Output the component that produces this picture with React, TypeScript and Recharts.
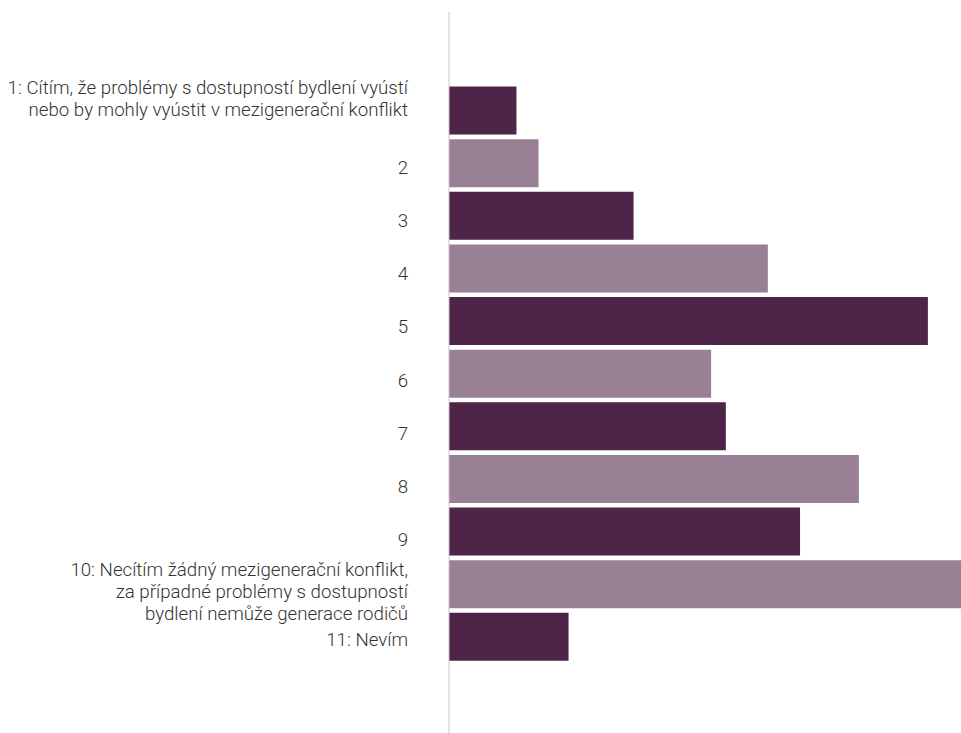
import React from 'react';
import { BarChart, Bar, XAxis, YAxis, Cell } from 'recharts';

const categories = ['1', '2', '3', '4', '5', '6', '7', '8', '9', '10', '11'];
const tickLabels: string[][] = [
  ['1: Cítím, že problémy s dostupností bydlení vyústí', 'nebo by mohly vyústit v mezigenerační konflikt'],
  ['2'],
  ['3'],
  ['4'],
  ['5'],
  ['6'],
  ['7'],
  ['8'],
  ['9'],
  ['10: Necítím žádný mezigenerační konflikt,', 'za případné problémy s dostupností', 'bydlení nemůže generace rodičů'],
  ['11: Nevím'],
];
const values = [2.2, 2.92, 6.02, 10.4, 15.62, 8.55, 9.03, 13.37, 11.45, 16.7, 3.9];
const barColors = ['#4E2549', '#9A8095'];

const data = categories.map((c, i) => ({ category: c, value: values[i] }));

const LINE_HEIGHT = 22;

const Tick = (props: any) => {
  const { x, y, payload, index } = props;
  const i = typeof index === 'number' ? index : categories.indexOf(payload.value);
  const lines = tickLabels[i] || [String(payload.value)];
  let firstDy: number;
  if (i === 0) {
    firstDy = -16.5;
  } else if (i === 9) {
    firstDy = -8.5;
  } else if (i === 10) {
    firstDy = 9.8;
  } else {
    firstDy = 10 + 0.6 * i;
  }
  return (
    <text
      x={x}
      y={y}
      textAnchor="end"
      fontFamily="Roboto"
      fontWeight={300}
      fontSize={18.7}
      fill="#333333"
    >
      {lines.map((l, k) => (
        <tspan key={k} x={x} dy={k === 0 ? firstDy : LINE_HEIGHT}>
          {l}
        </tspan>
      ))}
    </text>
  );
};

export default function App() {
  return (
    <div style={{ position: 'absolute', left: 0, top: 0, width: 961, height: 733 }}>
      <BarChart
        width={961}
        height={733}
        data={data}
        layout="vertical"
        margin={{ top: 12, right: 0, bottom: 0, left: 0 }}
        barCategoryGap={2.5}
      >
        <XAxis type="number" hide domain={[0, 'dataMax']} />
        <YAxis
          type="category"
          dataKey="category"
          width={449}
          padding={{ top: 72, bottom: 70 }}
          axisLine={{ stroke: '#c9c4c9', strokeWidth: 1 }}
          tickLine={false}
          tickSize={0}
          tickMargin={41}
          interval={0}
          tick={<Tick />}
        />
        <Bar dataKey="value" isAnimationActive={false}>
          {data.map((d, i) => (
            <Cell key={d.category} fill={barColors[i % 2]} />
          ))}
        </Bar>
      </BarChart>
    </div>
  );
}
